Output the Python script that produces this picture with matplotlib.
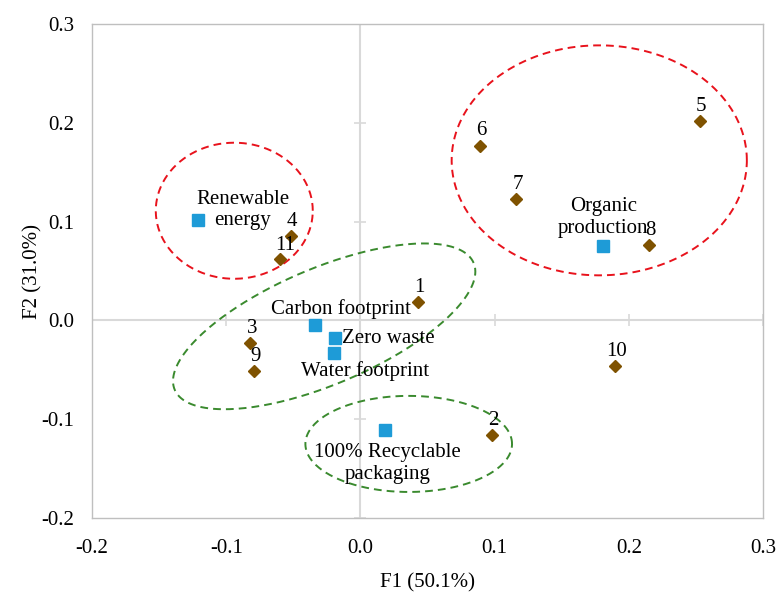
import numpy as np
import matplotlib.pyplot as plt

plt.rcParams['font.family'] = ['Liberation Serif', 'DejaVu Serif']

# observations (brown diamonds)
obs_labels = ['1', '2', '3', '4', '5', '6', '7', '8', '9', '10', '11']
obs_x = [0.043, 0.098, -0.082, -0.052, 0.253, 0.089, 0.116, 0.215, -0.079, 0.190, -0.060]
obs_y = [0.019, -0.116, -0.023, 0.085, 0.202, 0.177, 0.123, 0.076, -0.051, -0.046, 0.062]

# variables (blue squares)
var_labels = ['Renewable\nenergy', 'Organic\nproduction', 'Carbon footprint',
              'Zero waste', 'Water footprint', '100% Recyclable\npackaging']
var_x = [-0.121, 0.181, -0.034, -0.019, -0.020, 0.018]
var_y = [0.102, 0.075, -0.005, -0.018, -0.033, -0.111]

# group ellipses: centre x, centre y, half major, half minor (in x units), angle, colour
ell_cx = [-0.094, 0.178, -0.027, 0.036]
ell_cy = [0.111, 0.162, -0.006, -0.125]
ell_a = [0.0585, 0.110, 0.121, 0.077]
ell_b = [0.0507, 0.0857, 0.0432, 0.0358]
ell_ang = [0, 0, 23, 0]
ell_col = ['#E8121C', '#E8121C', '#3A8A2E', '#3A8A2E']

xticks = [-0.2, -0.1, 0.0, 0.1, 0.2, 0.3]
yticks = [-0.2, -0.1, 0.0, 0.1, 0.2, 0.3]

fig = plt.figure(figsize=(7.76, 5.94), dpi=100)
ax = fig.add_axes([0.1186, 0.1279, 0.8646, 0.8317])
ax.set_xlim(-0.2, 0.3)
ax.set_ylim(-0.2, 0.3)

# zero lines with small cross ticks
ax.axhline(0, color='#D9D9D9', lw=1.5, zorder=1)
ax.axvline(0, color='#D9D9D9', lw=1.5, zorder=1)
ax.plot(xticks, [0] * len(xticks), ls='none', marker='|', ms=9, mew=1.2, color='#D9D9D9', zorder=1)
ax.plot([0] * len(yticks), yticks, ls='none', marker='_', ms=9, mew=1.2, color='#D9D9D9', zorder=1)

# ellipses drawn so that the angle is visual (screen) angle
pos = ax.get_position()
w_px = pos.width * fig.get_figwidth()
h_px = pos.height * fig.get_figheight()
k = (0.5 / h_px) / (0.5 / w_px)
t = np.linspace(0, 2 * np.pi, 300)
for cx, cy, a, b, ang, c in zip(ell_cx, ell_cy, ell_a, ell_b, ell_ang, ell_col):
    th = np.deg2rad(ang)
    u = a * np.cos(t) * np.cos(th) - b * np.sin(t) * np.sin(th)
    w = a * np.cos(t) * np.sin(th) + b * np.sin(t) * np.cos(th)
    ax.plot(cx + u, cy + w * k, color=c, lw=1.4, ls=(0, (4, 2.6)), zorder=2)

ax.plot(obs_x, obs_y, ls='none', marker='D', ms=6, color='#7F5200', zorder=3)
ax.plot(var_x, var_y, ls='none', marker='s', ms=9, color='#1E9BD7', zorder=3)

fs = 15
num_off = {'11': (4, 10)}
for lab, x, y in zip(obs_labels, obs_x, obs_y):
    ax.annotate(lab, (x, y), xytext=num_off.get(lab, (1, 10.5)), textcoords='offset points',
                ha='center', va='center', fontsize=fs)

var_off = [(32, 7), (0, 21), (19, 12), (5, 0), (23, -13), (2, -24)]
var_ha = ['center', 'center', 'center', 'left', 'center', 'center']
for lab, x, y, off, ha in zip(var_labels, var_x, var_y, var_off, var_ha):
    ax.annotate(lab, (x, y), xytext=off, textcoords='offset points',
                ha=ha, va='center', fontsize=fs, multialignment='center', linespacing=1.2)

ax.set_xticks(xticks)
ax.set_yticks(yticks)
ax.set_xticklabels([f'{v:.1f}' for v in xticks])
ax.set_yticklabels([f'{v:.1f}' for v in yticks])
ax.tick_params(length=0, labelsize=15)
ax.tick_params(axis='x', pad=15)
ax.tick_params(axis='y', pad=13)
for s in ax.spines.values():
    s.set_color('#BFBFBF')
    s.set_linewidth(1)

ax.set_xlabel('F1 (50.1%)', fontsize=15)
ax.set_ylabel('F2 (31.0%)', fontsize=15)
ax.xaxis.set_label_coords(0.5, -0.112)
ax.yaxis.set_label_coords(-0.074, 0.5)

fig.savefig('out.png', dpi=100)
